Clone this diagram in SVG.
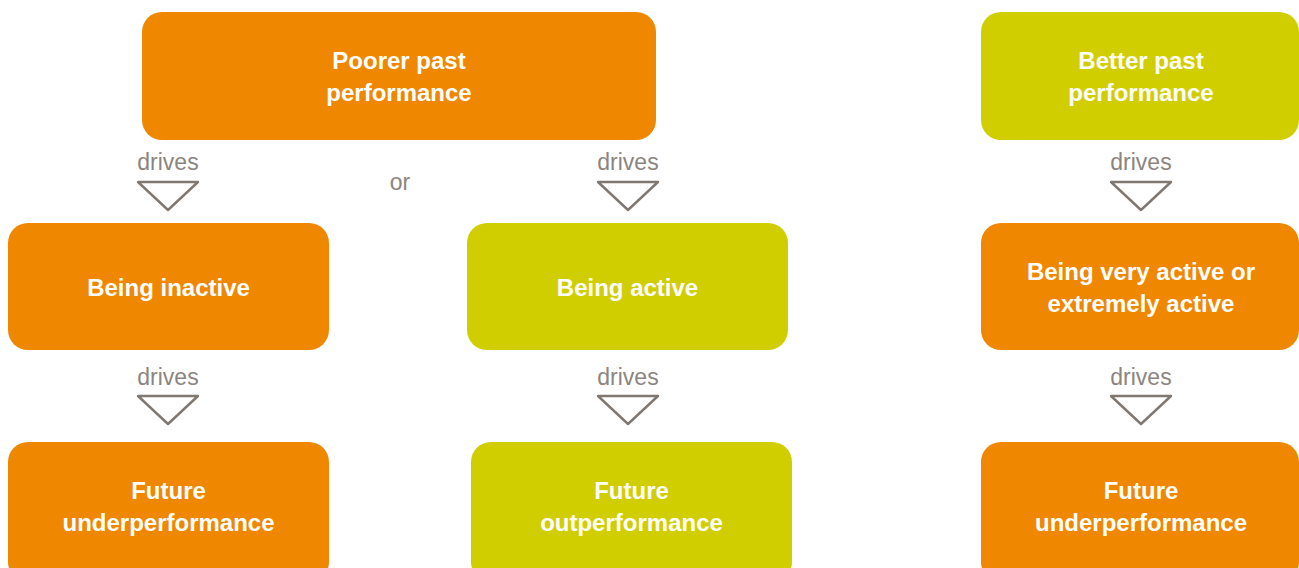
<svg xmlns="http://www.w3.org/2000/svg" width="1299" height="568" viewBox="0 0 1299 568">
  <style>
    .orange { fill: #F08700; }
    .lime { fill: #D0CE00; }
    .label { font-family: "Liberation Sans", Arial, sans-serif; font-weight: bold; font-size: 24px; fill: #ffffff; text-anchor: middle; }
    .drives { font-family: "Liberation Sans", Arial, sans-serif; font-size: 23px; fill: #8c857f; text-anchor: middle; }
    .arrow { fill: none; stroke: #7f7770; stroke-width: 2.4; stroke-linejoin: round; }
  </style>
  <rect width="1299" height="568" fill="#ffffff"/>

  <!-- Left branch source -->
  <g id="poorer-past">
    <rect class="orange" x="142" y="12" width="514" height="128" rx="20"/>
    <text class="label" x="399" y="69">Poorer past</text>
    <text class="label" x="399" y="101">performance</text>
  </g>

  <g id="or-label">
    <text class="drives" x="400" y="190">or</text>
  </g>

  <g id="being-inactive">
    <rect class="orange" x="8" y="223" width="321" height="127" rx="20"/>
    <text class="label" x="168.5" y="296">Being inactive</text>
  </g>

  <g id="being-active">
    <rect class="lime" x="467" y="223" width="321" height="127" rx="20"/>
    <text class="label" x="627.5" y="296">Being active</text>
  </g>

  <g id="future-under-left">
    <rect class="orange" x="8" y="442" width="321" height="140" rx="20"/>
    <text class="label" x="168.5" y="499">Future</text>
    <text class="label" x="168.5" y="531">underperformance</text>
  </g>

  <g id="future-out">
    <rect class="lime" x="471" y="442" width="321" height="140" rx="20"/>
    <text class="label" x="631.5" y="499">Future</text>
    <text class="label" x="631.5" y="531">outperformance</text>
  </g>

  <!-- Right branch -->
  <g id="better-past">
    <rect class="lime" x="981" y="12" width="318" height="128" rx="20"/>
    <text class="label" x="1141" y="69">Better past</text>
    <text class="label" x="1141" y="101">performance</text>
  </g>

  <g id="very-active">
    <rect class="orange" x="981" y="223" width="318" height="127" rx="20"/>
    <text class="label" x="1141" y="280">Being very active or</text>
    <text class="label" x="1141" y="312">extremely active</text>
  </g>

  <g id="future-under-right">
    <rect class="orange" x="981" y="442" width="318" height="140" rx="20"/>
    <text class="label" x="1141" y="499">Future</text>
    <text class="label" x="1141" y="531">underperformance</text>
  </g>

  <!-- "drives" connectors -->
  <g id="connectors">
    <text class="drives" x="168" y="170">drives</text>
    <path class="arrow" d="M138,182 L198,182 L168,210 Z"/>
    <text class="drives" x="628" y="170">drives</text>
    <path class="arrow" d="M598,182 L658,182 L628,210 Z"/>
    <text class="drives" x="1141" y="170">drives</text>
    <path class="arrow" d="M1111,182 L1171,182 L1141,210 Z"/>

    <text class="drives" x="168" y="385">drives</text>
    <path class="arrow" d="M138,396 L198,396 L168,424 Z"/>
    <text class="drives" x="628" y="385">drives</text>
    <path class="arrow" d="M598,396 L658,396 L628,424 Z"/>
    <text class="drives" x="1141" y="385">drives</text>
    <path class="arrow" d="M1111,396 L1171,396 L1141,424 Z"/>
  </g>
</svg>
